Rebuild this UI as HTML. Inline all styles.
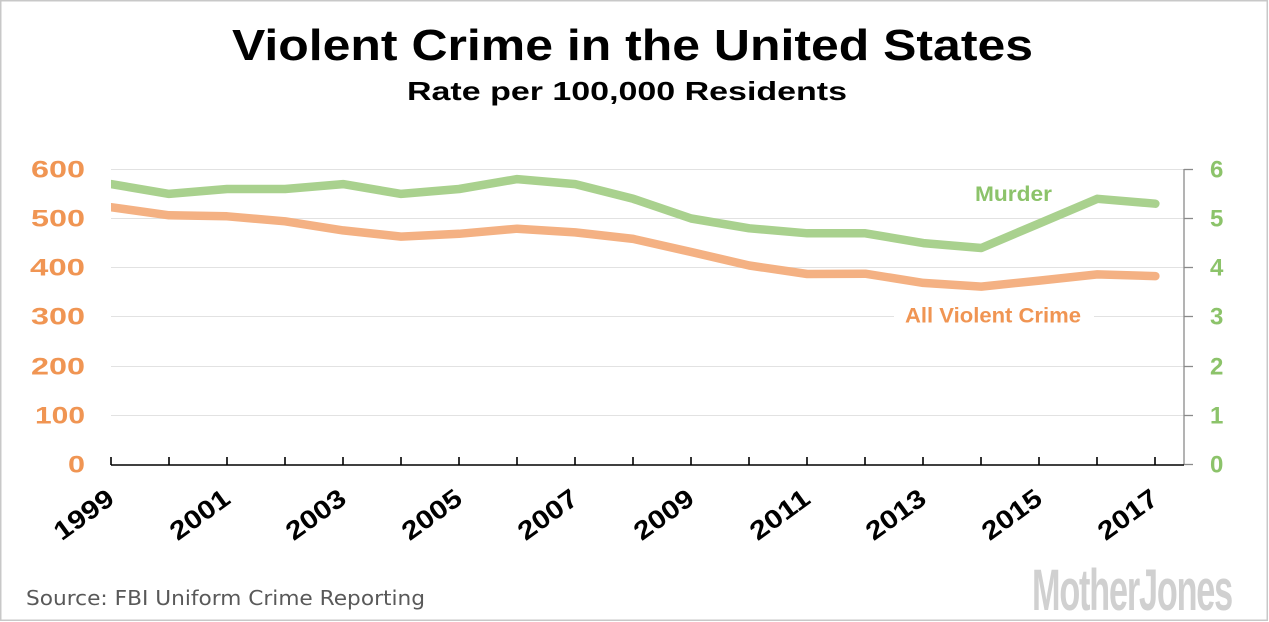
<!DOCTYPE html>
<html><head><meta charset="utf-8"><style>
html,body{margin:0;padding:0;background:#fff;}
svg{display:block;}
</style></head><body>
<svg width="1269" height="622" viewBox="0 0 1269 622" xmlns="http://www.w3.org/2000/svg">
<rect x="0" y="0" width="1269" height="622" fill="#fff"/>
<rect x="0.75" y="0.75" width="1266.5" height="619.5" fill="none" stroke="#c8c8c8" stroke-width="1.5"/>

<text x="232" y="60" font-family="Liberation Sans, sans-serif" font-weight="bold" font-size="44" textLength="801" lengthAdjust="spacingAndGlyphs" fill="#000">Violent Crime in the United States</text>
<text x="407" y="100" font-family="Liberation Sans, sans-serif" font-weight="bold" font-size="26" textLength="440" lengthAdjust="spacingAndGlyphs" fill="#000">Rate per 100,000 Residents</text>

<g stroke="#e2e2e2" stroke-width="1">
<line x1="111" y1="169.5" x2="1184" y2="169.5"/>
<line x1="111" y1="218.5" x2="1184" y2="218.5"/>
<line x1="111" y1="267.5" x2="1184" y2="267.5"/>
<line x1="111" y1="316.5" x2="894" y2="316.5"/>
<line x1="1094" y1="316.5" x2="1184" y2="316.5"/>
<line x1="111" y1="366.5" x2="1184" y2="366.5"/>
<line x1="111" y1="415.5" x2="1184" y2="415.5"/>
</g>

<g stroke="#8a8a8a" stroke-width="1.3">
<line x1="1184" y1="169" x2="1184" y2="465"/>
<line x1="1184" y1="169.5" x2="1193" y2="169.5"/>
<line x1="1184" y1="218.5" x2="1193" y2="218.5"/>
<line x1="1184" y1="267.5" x2="1193" y2="267.5"/>
<line x1="1184" y1="316.5" x2="1193" y2="316.5"/>
<line x1="1184" y1="366.5" x2="1193" y2="366.5"/>
<line x1="1184" y1="415.5" x2="1193" y2="415.5"/>
<line x1="1184" y1="464.5" x2="1193" y2="464.5"/>
</g>

<g stroke="#000" stroke-width="1.6">
<line x1="111" y1="465" x2="1184" y2="465"/>
<line x1="111" y1="457" x2="111" y2="465"/>
<line x1="169" y1="457" x2="169" y2="465"/>
<line x1="227" y1="457" x2="227" y2="465"/>
<line x1="285" y1="457" x2="285" y2="465"/>
<line x1="343" y1="457" x2="343" y2="465"/>
<line x1="401" y1="457" x2="401" y2="465"/>
<line x1="459" y1="457" x2="459" y2="465"/>
<line x1="517" y1="457" x2="517" y2="465"/>
<line x1="575" y1="457" x2="575" y2="465"/>
<line x1="633" y1="457" x2="633" y2="465"/>
<line x1="691" y1="457" x2="691" y2="465"/>
<line x1="749" y1="457" x2="749" y2="465"/>
<line x1="807" y1="457" x2="807" y2="465"/>
<line x1="865" y1="457" x2="865" y2="465"/>
<line x1="923" y1="457" x2="923" y2="465"/>
<line x1="981" y1="457" x2="981" y2="465"/>
<line x1="1039" y1="457" x2="1039" y2="465"/>
<line x1="1097" y1="457" x2="1097" y2="465"/>
<line x1="1155" y1="457" x2="1155" y2="465"/>
</g>

<defs><clipPath id="c"><rect x="111" y="100" width="1100" height="400"/></clipPath></defs>
<g clip-path="url(#c)" fill="none" stroke-width="8.5" stroke-linejoin="round" stroke-linecap="round">
<polyline stroke="#F4B183" points="111,207.2 169.02,215.3 227.04,216.3 285.06,221.3 343.08,230.4 401.1,236.6 459.12,233.8 517.14,228.7 575.16,232.4 633.18,238.9 691.2,252.0 749.22,265.5 807.24,274.0 865.26,273.7 923.28,282.9 981.3,286.6 1039.32,280.6 1097.34,274.4 1155.36,276.1"/>
<polyline stroke="#A9D18E" points="111,184.1 169.02,193.9 227.04,189.0 285.06,189.0 343.08,184.1 401.1,193.9 459.12,189.0 517.14,179.1 575.16,184.1 633.18,198.8 691.2,218.5 749.22,228.3 807.24,233.3 865.26,233.3 923.28,243.1 981.3,248.0 1039.32,223.4 1097.34,198.8 1155.36,203.7"/>
</g>

<g font-family="Liberation Sans, sans-serif" font-weight="bold" font-size="24" fill="#F09553" text-anchor="end">
<text x="85" y="177.5" textLength="54" lengthAdjust="spacingAndGlyphs">600</text>
<text x="85" y="226.5" textLength="54" lengthAdjust="spacingAndGlyphs">500</text>
<text x="85" y="275.5" textLength="55" lengthAdjust="spacingAndGlyphs">400</text>
<text x="85" y="324.5" textLength="54" lengthAdjust="spacingAndGlyphs">300</text>
<text x="85" y="374.5" textLength="54" lengthAdjust="spacingAndGlyphs">200</text>
<text x="85" y="423.5" textLength="50" lengthAdjust="spacingAndGlyphs">100</text>
<text x="85" y="472.5" textLength="17" lengthAdjust="spacingAndGlyphs">0</text>
</g>

<g font-family="Liberation Sans, sans-serif" font-weight="bold" font-size="24" fill="#8CC36A">
<text x="1210" y="177.5">6</text>
<text x="1210" y="226.5">5</text>
<text x="1210" y="275.5">4</text>
<text x="1210" y="324.5">3</text>
<text x="1210" y="374.5">2</text>
<text x="1210" y="423.5">1</text>
<text x="1210" y="472.5">0</text>
</g>

<text x="975" y="201" font-family="Liberation Sans, sans-serif" font-weight="bold" font-size="21" fill="#8CC36A" textLength="77" lengthAdjust="spacingAndGlyphs">Murder</text>
<text x="905" y="322.7" font-family="Liberation Sans, sans-serif" font-weight="bold" font-size="21" fill="#F09553" textLength="176" lengthAdjust="spacingAndGlyphs">All Violent Crime</text>

<g font-family="Liberation Sans, sans-serif" font-weight="bold" font-size="26" fill="#000" text-anchor="end">
<text transform="translate(116,502) rotate(-36)" textLength="67" lengthAdjust="spacingAndGlyphs">1999</text>
<text transform="translate(232,502) rotate(-36)" textLength="67" lengthAdjust="spacingAndGlyphs">2001</text>
<text transform="translate(348,502) rotate(-36)" textLength="67" lengthAdjust="spacingAndGlyphs">2003</text>
<text transform="translate(464,502) rotate(-36)" textLength="67" lengthAdjust="spacingAndGlyphs">2005</text>
<text transform="translate(580,502) rotate(-36)" textLength="67" lengthAdjust="spacingAndGlyphs">2007</text>
<text transform="translate(696,502) rotate(-36)" textLength="67" lengthAdjust="spacingAndGlyphs">2009</text>
<text transform="translate(812,502) rotate(-36)" textLength="67" lengthAdjust="spacingAndGlyphs">2011</text>
<text transform="translate(928,502) rotate(-36)" textLength="67" lengthAdjust="spacingAndGlyphs">2013</text>
<text transform="translate(1044,502) rotate(-36)" textLength="67" lengthAdjust="spacingAndGlyphs">2015</text>
<text transform="translate(1160,502) rotate(-36)" textLength="67" lengthAdjust="spacingAndGlyphs">2017</text>
</g>

<text x="26" y="605" font-family="DejaVu Sans, Verdana, sans-serif" font-size="20" fill="#595959" textLength="399" lengthAdjust="spacingAndGlyphs">Source: FBI Uniform Crime Reporting</text>

<text x="1032" y="610" font-family="Liberation Sans Narrow, Liberation Sans, sans-serif" font-weight="bold" font-size="58" fill="#d0d0d0" textLength="200" lengthAdjust="spacingAndGlyphs" letter-spacing="-2">MotherJones</text>
</svg>
</body></html>
